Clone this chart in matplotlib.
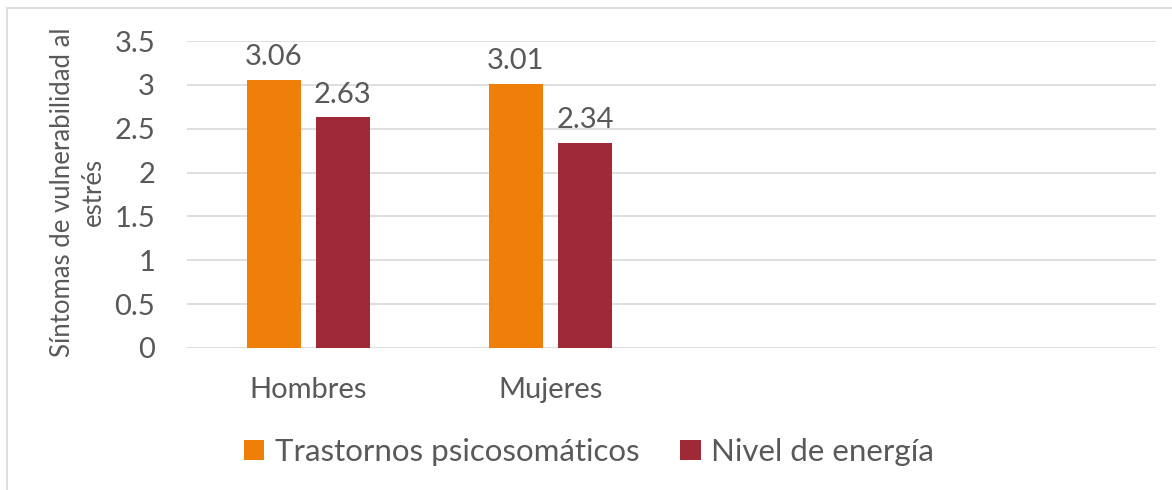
import matplotlib.pyplot as plt
from matplotlib.patches import Rectangle
import numpy as np

# datos
categorias = ["Hombres", "Mujeres"]
series = ["Trastornos psicosomáticos", "Nivel de energía"]
trastornos = [3.06, 3.01]
energia = [2.63, 2.34]
colores = ["#F07F09", "#9F2936"]
gris = "#595959"

plt.rcParams["font.family"] = ["Lato", "DejaVu Sans"]

fig = plt.figure(figsize=(11.72, 4.9), dpi=100)
ax = fig.add_axes([0.1596, 0.2898, 0.8267, 0.6265])

# borde exterior del grafico
fig.patches.append(Rectangle((7 / 1172, -0.1), 1.2, 1 - 8 / 490 + 0.1,
                             transform=fig.transFigure, fill=False,
                             edgecolor="#D9D9D9", lw=1.2))

x = np.arange(len(categorias))
ancho = 0.223
desp = 0.1426
for i, (vals, nombre) in enumerate(zip([trastornos, energia], series)):
    pos = x + (i * 2 - 1) * desp
    barras = ax.bar(pos, vals, width=ancho, color=colores[i], label=nombre, zorder=3)
    for b, v in zip(barras, vals):
        ax.annotate(f"{v:.2f}", (b.get_x() + b.get_width() / 2, v),
                    xytext=(0, 7), textcoords="offset points",
                    ha="center", va="bottom", fontsize=21, color=gris)

ax.set_xlim(-0.5, 3.5)
ax.set_ylim(0, 3.5)
ax.set_yticks(np.arange(0, 3.51, 0.5))
ax.set_yticklabels(["0", "0.5", "1", "1.5", "2", "2.5", "3", "3.5"])
ax.set_xticks(x)
ax.set_xticklabels(categorias)
ax.tick_params(axis="both", length=0, labelsize=21, colors=gris)
ax.tick_params(axis="x", pad=21)
ax.tick_params(axis="y", pad=23)
ax.grid(axis="y", color="#D9D9D9", lw=1.2, zorder=0)
for s in ax.spines.values():
    s.set_visible(False)

fig.text(78 / 1172, 1 - 192 / 490, "Síntomas de vulnerabilidad al\nestrés",
         rotation=90, ha="center", va="center", multialignment="center",
         fontsize=18.5, color=gris, linespacing=1.25)

fig.legend(loc="center", bbox_to_anchor=(589 / 1172, 1 - 452 / 490), ncol=2,
           frameon=False, fontsize=22.5, labelcolor=gris, handlelength=0.65,
           handleheight=0.65, handletextpad=0.35, columnspacing=1.3)

fig.savefig("out.png", dpi=100, facecolor="white")
